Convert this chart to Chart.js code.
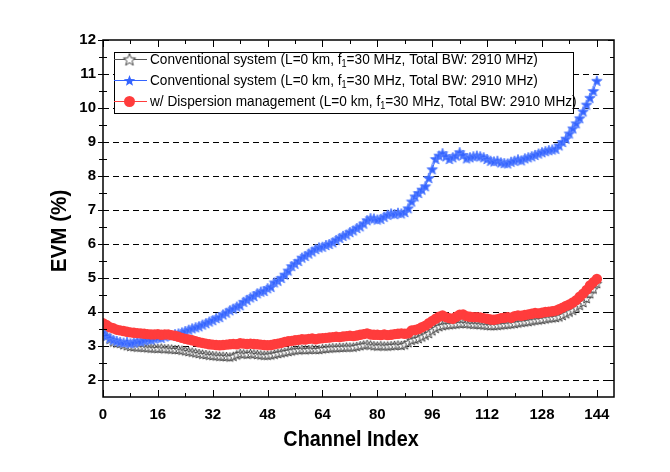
<!DOCTYPE html>
<html>
<head>
<meta charset="utf-8">
<script src="https://cdn.jsdelivr.net/npm/chart.js@4.4.0/dist/chart.umd.min.js"></script>
<style>
body { margin: 0; background: #fff; }
#wrap { width: 670px; height: 472px; }
</style>
</head>
<body>
<div id="wrap"><canvas id="evmChart"></canvas></div>
<script>
// EVM per channel
var grayEvm = [
  3.42, 3.30, 3.20, 3.12, 3.09, 3.08, 3.04, 3.01, 2.99, 2.98,
  2.97, 2.97, 2.96, 2.95, 2.94, 2.94, 2.93, 2.94, 2.92, 2.92,
  2.91, 2.90, 2.90, 2.88, 2.86, 2.84, 2.82, 2.80, 2.78, 2.76,
  2.75, 2.73, 2.72, 2.71, 2.70, 2.70, 2.69, 2.68, 2.70, 2.74,
  2.78, 2.77, 2.76, 2.78, 2.77, 2.75, 2.74, 2.73, 2.73, 2.74,
  2.76, 2.78, 2.80, 2.82, 2.84, 2.86, 2.88, 2.89, 2.90, 2.89,
  2.90, 2.91, 2.90, 2.90, 2.92, 2.93, 2.94, 2.95, 2.95, 2.96,
  2.96, 2.97, 2.97, 2.97, 2.99, 3.01, 3.03, 3.05, 3.03, 3.01,
  3.00, 3.01, 3.00, 3.00, 3.01, 3.02, 3.03, 3.02, 3.04, 3.10,
  3.17, 3.20, 3.22, 3.27, 3.32, 3.37, 3.45, 3.52, 3.57, 3.60,
  3.62, 3.63, 3.64, 3.65, 3.66, 3.67, 3.66, 3.65, 3.64, 3.64,
  3.63, 3.62, 3.61, 3.60, 3.60, 3.61, 3.62, 3.63, 3.64, 3.65,
  3.66, 3.68, 3.70, 3.71, 3.72, 3.74, 3.76, 3.77, 3.78, 3.80,
  3.82, 3.83, 3.84, 3.86, 3.90, 3.95, 4.00, 4.05, 4.12, 4.20,
  4.28, 4.40, 4.54, 4.68, 4.84
];
var blueEvm = [
  3.40, 3.30, 3.23, 3.18, 3.15, 3.12, 3.10, 3.12, 3.08, 3.10,
  3.15, 3.13, 3.17, 3.20, 3.19, 3.22, 3.25, 3.24, 3.28, 3.32,
  3.30, 3.35, 3.37, 3.40, 3.44, 3.48, 3.52, 3.55, 3.58, 3.63,
  3.67, 3.72, 3.76, 3.82, 3.85, 3.93, 3.98, 4.05, 4.10, 4.16,
  4.20, 4.30, 4.36, 4.43, 4.47, 4.55, 4.60, 4.62, 4.70, 4.74,
  4.87, 4.92, 5.00, 5.10, 5.22, 5.35, 5.42, 5.50, 5.60, 5.65,
  5.72, 5.78, 5.85, 5.90, 5.92, 5.97, 6.00, 6.05, 6.12, 6.18,
  6.24, 6.28, 6.35, 6.40, 6.47, 6.52, 6.60, 6.70, 6.76, 6.75,
  6.72, 6.74, 6.80, 6.86, 6.90, 6.88, 6.92, 6.90, 6.94, 7.05,
  7.25, 7.40, 7.50, 7.60, 7.70, 7.94, 8.20, 8.50, 8.60, 8.67,
  8.58, 8.50, 8.55, 8.60, 8.70, 8.62, 8.52, 8.55, 8.58, 8.60,
  8.58, 8.55, 8.50, 8.45, 8.43, 8.45, 8.40, 8.38, 8.37, 8.42,
  8.45, 8.49, 8.46, 8.52, 8.55, 8.58, 8.62, 8.66, 8.70, 8.73,
  8.76, 8.78, 8.80, 8.90, 9.00, 9.10, 9.25, 9.40, 9.55, 9.70,
  9.90, 10.10, 10.30, 10.50, 10.80
];
var redEvm = [
  3.67, 3.62, 3.55, 3.52, 3.48, 3.46, 3.44, 3.42, 3.40, 3.39,
  3.38, 3.37, 3.36, 3.35, 3.34, 3.34, 3.35, 3.33, 3.34, 3.34,
  3.32, 3.30, 3.27, 3.24, 3.21, 3.19, 3.17, 3.14, 3.11, 3.09,
  3.07, 3.05, 3.04, 3.03, 3.02, 3.03, 3.04, 3.05, 3.06, 3.05,
  3.08, 3.07, 3.06, 3.07, 3.06, 3.05, 3.04, 3.03, 3.02, 3.03,
  3.05, 3.07, 3.09, 3.12, 3.14, 3.15, 3.17, 3.18, 3.20, 3.19,
  3.21, 3.22, 3.20, 3.22, 3.23, 3.24, 3.25, 3.26, 3.27, 3.26,
  3.28, 3.29, 3.30, 3.29, 3.31, 3.33, 3.35, 3.37, 3.34, 3.33,
  3.33, 3.32, 3.34, 3.32, 3.33, 3.35, 3.36, 3.37, 3.36, 3.37,
  3.46, 3.47, 3.50, 3.55, 3.60, 3.67, 3.74, 3.80, 3.86, 3.90,
  3.85, 3.82, 3.80, 3.86, 3.92, 3.93, 3.88, 3.86, 3.85, 3.85,
  3.84, 3.82, 3.80, 3.78, 3.77, 3.79, 3.82, 3.83, 3.85, 3.83,
  3.88, 3.90, 3.89, 3.91, 3.93, 3.95, 3.97, 3.96, 3.98, 4.00,
  4.01, 4.02, 4.04, 4.08, 4.13, 4.18, 4.22, 4.28, 4.35, 4.45,
  4.54, 4.65, 4.78, 4.88, 4.97
];
var seriesNames = [
  "Conventional system (L=0 km, f1=30 MHz, Total BW: 2910 MHz)",
  "Conventional system (L=0 km, f1=30 MHz, Total BW: 2910 MHz)",
  "w/ Dispersion management (L=0 km, f1=30 MHz, Total BW: 2910 MHz)"
];
var xTicks = [0, 16, 32, 48, 64, 80, 96, 112, 128, 144];
var yTicks = [2, 3, 4, 5, 6, 7, 8, 9, 10, 11, 12];
var xTitle = "Channel Index";
var yTitle = "EVM (%)";

var channelIndex = blueEvm.map(function (v, i) { return i; });

function toPoints(arr) {
  return arr.map(function (v, i) { return { x: channelIndex[i], y: v }; });
}

// 5-point star marker drawn on a small canvas
function makeStar(fill, stroke, r) {
  var s = Math.ceil(r * 2 + 3);
  var c = document.createElement('canvas');
  c.width = s; c.height = s;
  var g = c.getContext('2d');
  g.beginPath();
  for (var i = 0; i < 10; i++) {
    var rad = i % 2 ? r * 0.42 : r;
    var a = -Math.PI / 2 + i * Math.PI / 5;
    var px = s / 2 + rad * Math.cos(a), py = s / 2 + rad * Math.sin(a) + 0.5;
    if (i) g.lineTo(px, py); else g.moveTo(px, py);
  }
  g.closePath();
  g.fillStyle = fill;
  g.fill();
  if (stroke) { g.strokeStyle = stroke; g.lineWidth = 1; g.stroke(); }
  return c;
}

var grayStar = makeStar('#ffffff', '#444444', 5);
var blueStar = makeStar('#3464ff', '#5a82ff', 5.5);
var grayStarBig = makeStar('#ffffff', '#444444', 6.5);
var blueStarBig = makeStar('#3464ff', null, 6);
var redCol = '#ff3c3c';

var fontFam = '"Liberation Sans", Arial, sans-serif';

// text drawn a bit condensed like the original figure
function squeezed(ctx, text, x, y, sx, align) {
  ctx.save();
  ctx.translate(x, y);
  ctx.scale(sx, 1);
  ctx.textAlign = align || 'left';
  ctx.fillText(text, 0, 0);
  ctx.restore();
  return ctx.measureText(text).width * sx;
}

var framePlugin = {
  id: 'frame',
  beforeDatasetsDraw: function (chart) {
    var ctx = chart.ctx, a = chart.chartArea, ys = chart.scales.y;
    ctx.save();
    ctx.strokeStyle = '#000';
    ctx.lineWidth = 1;
    ctx.setLineDash([6, 4]);
    yTicks.forEach(function (v) {
      if (v >= 12) return;
      var y = Math.round(ys.getPixelForValue(v)) + 0.5;
      ctx.beginPath();
      ctx.moveTo(a.left, y);
      ctx.lineTo(a.right, y);
      ctx.stroke();
    });
    ctx.restore();
  },
  afterDatasetsDraw: function (chart) {
    var ctx = chart.ctx, a = chart.chartArea, xs = chart.scales.x, ys = chart.scales.y;
    ctx.save();
    ctx.strokeStyle = '#000';
    ctx.lineWidth = 1.5;
    ctx.strokeRect(a.left, a.top, a.right - a.left, a.bottom - a.top);
    ctx.lineWidth = 1;
    ctx.beginPath();
    xTicks.forEach(function (v) {
      var x = Math.round(xs.getPixelForValue(v)) + 0.5;
      ctx.moveTo(x, a.bottom); ctx.lineTo(x, a.bottom - 7);
      ctx.moveTo(x, a.top); ctx.lineTo(x, a.top + 7);
      var m = v + 8;
      if (m < xs.max) {
        var xm = Math.round(xs.getPixelForValue(m)) + 0.5;
        ctx.moveTo(xm, a.bottom); ctx.lineTo(xm, a.bottom - 4);
        ctx.moveTo(xm, a.top); ctx.lineTo(xm, a.top + 4);
      }
    });
    yTicks.forEach(function (v) {
      var y = Math.round(ys.getPixelForValue(v)) + 0.5;
      ctx.moveTo(a.left - 5, y); ctx.lineTo(a.left + 6, y);
      ctx.moveTo(a.right, y); ctx.lineTo(a.right - 6, y);
      var m = v - 0.5;
      if (m > ys.min) {
        var ym = Math.round(ys.getPixelForValue(m)) + 0.5;
        ctx.moveTo(a.left - 4, ym); ctx.lineTo(a.left + 4, ym);
        ctx.moveTo(a.right, ym); ctx.lineTo(a.right - 4, ym);
      }
    });
    ctx.stroke();
    ctx.restore();
  },
  afterDraw: function (chart) {
    var ctx = chart.ctx;
    ctx.save();
    ctx.fillStyle = '#000';
    ctx.textBaseline = 'middle';

    // axis titles
    ctx.font = 'bold 22px ' + fontFam;
    squeezed(ctx, xTitle, 351, 440, 0.9, 'center');
    ctx.save();
    ctx.translate(60, 231);
    ctx.rotate(-Math.PI / 2);
    squeezed(ctx, yTitle, 0, 0, 0.94, 'center');
    ctx.restore();

    // legend box
    var box = { left: 114, top: 52, right: 573, bottom: 113 };
    ctx.fillStyle = '#fff';
    ctx.fillRect(box.left, box.top, box.right - box.left, box.bottom - box.top);
    ctx.strokeStyle = '#000';
    ctx.lineWidth = 1;
    ctx.strokeRect(box.left + 0.5, box.top + 0.5, box.right - box.left, box.bottom - box.top);

    var rows = [59.5, 80.5, 101.5];
    var lineCols = ['#555555', '#3464ff', redCol];
    var sx = 0.91;
    rows.forEach(function (ry, i) {
      ctx.strokeStyle = lineCols[i];
      ctx.lineWidth = 1;
      ctx.beginPath();
      ctx.moveTo(box.left, ry); ctx.lineTo(147, ry);
      ctx.stroke();
      if (i === 0) ctx.drawImage(grayStarBig, 129.5 - grayStarBig.width / 2, ry - grayStarBig.height / 2);
      if (i === 1) ctx.drawImage(blueStarBig, 129.5 - blueStarBig.width / 2, ry - blueStarBig.height / 2);
      if (i === 2) {
        ctx.fillStyle = redCol;
        ctx.beginPath();
        ctx.arc(129.5, ry, 5.5, 0, Math.PI * 2);
        ctx.fill();
      }
      // label with f1 subscript
      ctx.fillStyle = '#000';
      var parts = seriesNames[i].split('f1');
      var x = 150;
      ctx.font = '15px ' + fontFam;
      x += squeezed(ctx, parts[0] + 'f', x, ry, sx);
      ctx.font = '10px ' + fontFam;
      x += squeezed(ctx, '1', x, ry + 5, sx);
      ctx.font = '15px ' + fontFam;
      squeezed(ctx, parts[1], x, ry, sx);
    });
    ctx.restore();
  }
};

var tickFont = { family: fontFam, size: 15, weight: 'bold' };

new Chart(document.getElementById('evmChart'), {
  type: 'line',
  data: {
    datasets: [
      {
        label: seriesNames[0], data: toPoints(grayEvm),
        borderColor: '#555555', borderWidth: 1, pointStyle: grayStar, pointRadius: 5,
        order: 3
      },
      {
        label: seriesNames[1], data: toPoints(blueEvm),
        borderColor: '#3464ff', borderWidth: 1, pointStyle: blueStar, pointRadius: 5,
        order: 2
      },
      {
        label: seriesNames[2], data: toPoints(redEvm),
        borderColor: redCol, borderWidth: 1, pointStyle: 'circle', pointRadius: 5.2,
        pointBackgroundColor: redCol, pointBorderColor: redCol, pointBorderWidth: 0,
        order: 1
      }
    ]
  },
  options: {
    responsive: true,
    maintainAspectRatio: false,
    animation: false,
    layout: { padding: { top: 40, right: 56, left: 0, bottom: 0 } },
    plugins: { legend: { display: false }, tooltip: { enabled: false } },
    scales: {
      x: {
        type: 'linear', min: 0, max: 149,
        grid: { display: false, drawTicks: false },
        border: { display: false },
        afterBuildTicks: function (s) { s.ticks = xTicks.map(function (v) { return { value: v }; }); },
        afterFit: function (s) { s.height = 75; },
        ticks: { font: tickFont, color: '#000', padding: 9, maxRotation: 0, autoSkip: false }
      },
      y: {
        type: 'linear', min: 1.5, max: 12,
        grid: { display: false, drawTicks: false },
        border: { display: false },
        afterBuildTicks: function (s) { s.ticks = yTicks.map(function (v) { return { value: v }; }); },
        afterFit: function (s) { s.width = 103; },
        ticks: { font: tickFont, color: '#000', padding: 7, autoSkip: false }
      }
    }
  },
  plugins: [framePlugin]
});
</script>
</body>
</html>
